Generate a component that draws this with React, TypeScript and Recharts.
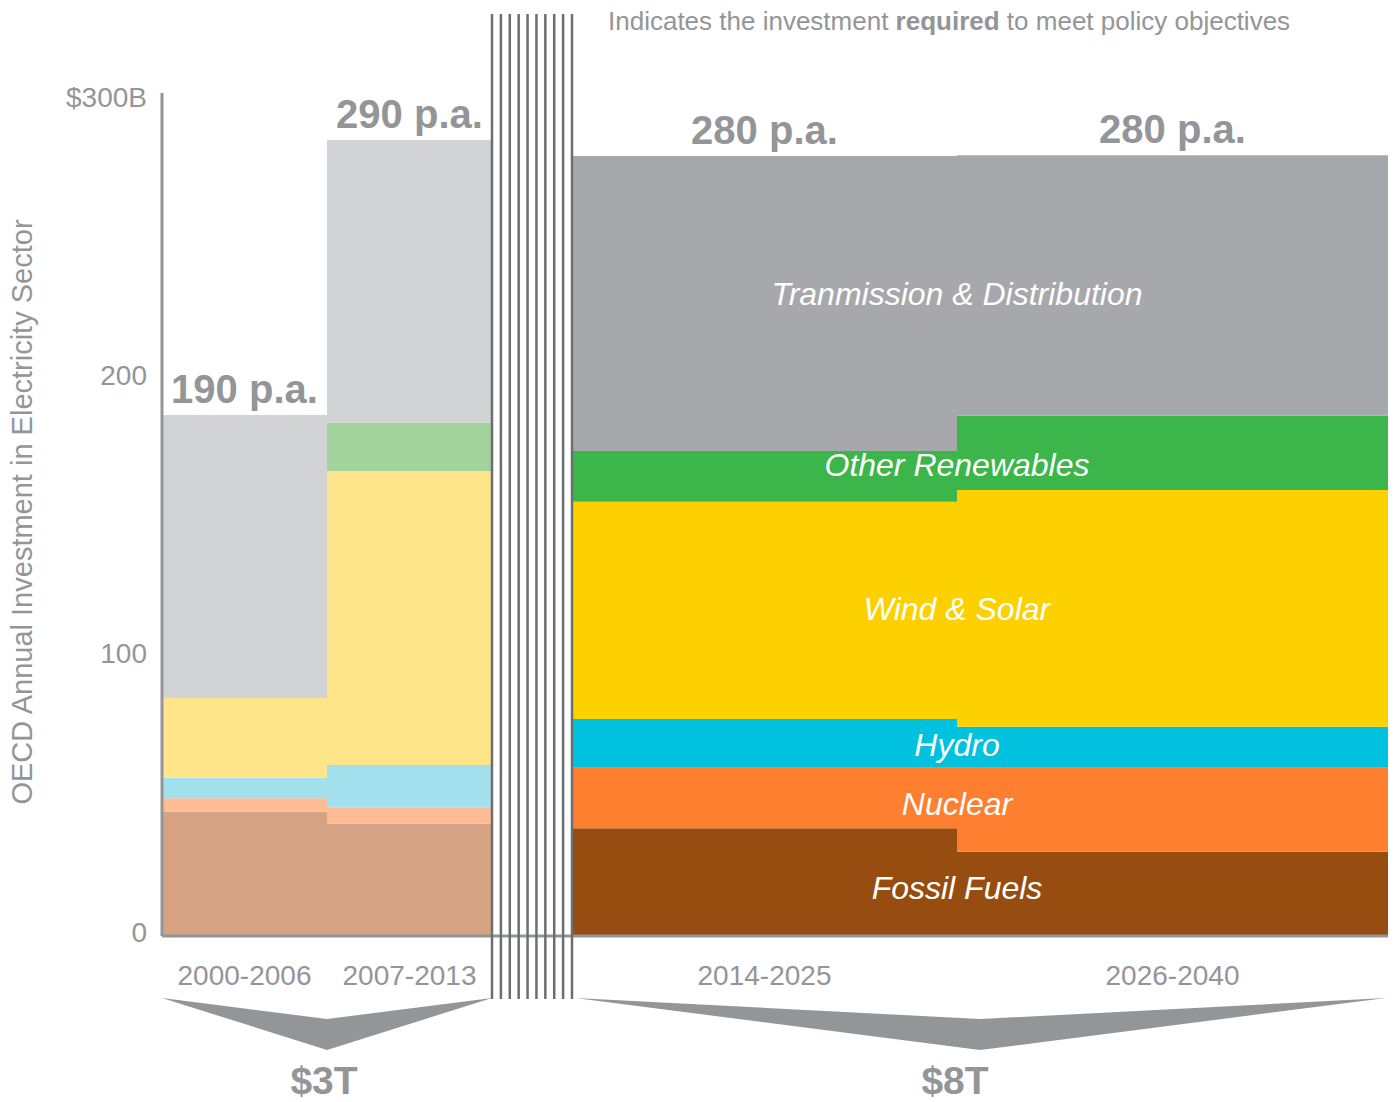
import React from 'react';
import { AreaChart, Area, XAxis, YAxis, ReferenceDot } from 'recharts';

// Investment per period, $B per year
const periods = ['2000-2006', '2007-2013', '2014-2025', '2026-2040'];
const fossil = [44.7, 40.4, 38.7, 30.3];
const nuclear = [4.8, 5.9, 21.8, 30.2];
const hydro = [7.4, 15.2, 17.5, 14.7];
const windSolar = [28.6, 105.6, 78.1, 85.1];
const otherRen = [0, 17.4, 18.2, 26.7];
const transDist = [101.8, 101.6, 106.1, 93.6];
const totalLabels = ['190 p.a.', '290 p.a.', '280 p.a.', '280 p.a.'];
const yTicks = [0, 100, 200, 300];

// layout: horizontal span of each period, in plot pixels (bars have different widths)
const barSpans: [number, number][] = [[0, 165], [165, 330], [410, 795], [795, 1226]];
const GAP: [number, number] = [330, 410];
const X_MAX = 1226;

const W = 1395;
const H = 1102;
const PLOT_LEFT = 162;
const PLOT_TOP = 93;
const PLOT_BOTTOM = 936;
const GREY = '#939598';
const FONT = '"Liberation Sans", Arial, Helvetica, sans-serif';

const series = [
  { key: 'fossil', values: fossil, name: 'Fossil Fuels', hist: '#d5a284', proj: '#984d10' },
  { key: 'nuclear', values: nuclear, name: 'Nuclear', hist: '#fdbd94', proj: '#fe7f30' },
  { key: 'hydro', values: hydro, name: 'Hydro', hist: '#a2e0ee', proj: '#00c1de' },
  { key: 'windSolar', values: windSolar, name: 'Wind & Solar', hist: '#fee58a', proj: '#fdd000' },
  { key: 'otherRen', values: otherRen, name: 'Other Renewables', hist: '#a3d39c', proj: '#3cb54a' },
  { key: 'transDist', values: transDist, name: 'Tranmission & Distribution', hist: '#d1d3d4', proj: '#a7a8ab' },
];

// step rows: one at the start of each period, zeros across the gap, and a closing row
const rows: any[] = [];
barSpans.forEach(([x0], i) => {
  const row: any = { x: x0 };
  series.forEach((s) => (row[s.key] = s.values[i]));
  rows.push(row);
  if (i === 1) {
    const gap: any = { x: GAP[0] };
    series.forEach((s) => (gap[s.key] = 0));
    rows.push(gap);
  }
});
const last: any = { x: X_MAX };
series.forEach((s) => (last[s.key] = s.values[3]));
rows.push(last);

const totals = periods.map((_, i) => series.reduce((sum, s) => sum + s.values[i], 0));
const centers = barSpans.map(([a, b]) => (a + b) / 2);

// segment labels sit on the 2014-2025 / 2026-2040 boundary, at the mean mid-height of both bars
const segLabels = series.map((s, si) => {
  const below = (i: number) => series.slice(0, si).reduce((sum, t) => sum + t.values[i], 0);
  const mid = (i: number) => below(i) + s.values[i] / 2;
  return { name: s.name, y: (mid(2) + mid(3)) / 2 };
});

const splitOffset = (GAP[0] + GAP[1]) / 2 / X_MAX;

function YTick(props: any) {
  const v = props.payload.value;
  return (
    <text x={props.x} y={props.y - 4} textAnchor="end" dominantBaseline="central"
      fontSize={28} fill={GREY} fontFamily={FONT}>
      {v === 300 ? '$300B' : v}
    </text>
  );
}

function XTick(props: any) {
  const i = centers.indexOf(props.payload.value);
  return (
    <text x={props.x} y={props.y + 39} textAnchor="middle" dominantBaseline="central"
      fontSize={28} fill={GREY} fontFamily={FONT}>
      {periods[i]}
    </text>
  );
}

export default function App() {
  const px = (u: number) => PLOT_LEFT + u;
  const lines = Array.from({ length: 10 }, (_, i) => px(GAP[0] + (i * (GAP[1] - GAP[0])) / 9));
  const leftMid = px((barSpans[0][0] + barSpans[1][1]) / 2);
  const rightMid = px((barSpans[2][0] + barSpans[3][1]) / 2);

  return (
    <div style={{ position: 'absolute', left: 0, top: 0, width: W, height: H, background: '#fff' }}>
      <AreaChart width={W} height={H} data={rows}
        margin={{ top: PLOT_TOP, right: W - PLOT_LEFT - X_MAX, bottom: H - PLOT_BOTTOM - 60, left: 0 }}>
        <defs>
          {series.map((s) => (
            <linearGradient key={s.key} id={`g-${s.key}`} gradientUnits="userSpaceOnUse"
              x1={PLOT_LEFT} x2={PLOT_LEFT + X_MAX} y1={0} y2={0}>
              <stop offset={0} stopColor={s.hist} />
              <stop offset={splitOffset} stopColor={s.hist} />
              <stop offset={splitOffset} stopColor={s.proj} />
              <stop offset={1} stopColor={s.proj} />
            </linearGradient>
          ))}
        </defs>
        <XAxis type="number" dataKey="x" domain={[0, X_MAX]} ticks={centers} interval={0}
          height={60} tickLine={false} tickSize={0} tickMargin={0} tick={<XTick />}
          axisLine={{ stroke: GREY, strokeWidth: 3 }} allowDataOverflow />
        <YAxis type="number" domain={[0, 303]} ticks={yTicks} width={PLOT_LEFT}
          tickLine={false} tickSize={0} tickMargin={15} tick={<YTick />}
          axisLine={{ stroke: GREY, strokeWidth: 3 }} allowDataOverflow />
        {series.map((s) => (
          <Area key={s.key} type="stepAfter" dataKey={s.key} stackId="1" stroke="none"
            fill={`url(#g-${s.key})`} fillOpacity={1} dot={false} activeDot={false}
            isAnimationActive={false} />
        ))}
        {centers.map((c, i) => (
          <ReferenceDot key={`t${i}`} x={c} y={totals[i]} r={0}
            shape={(p: any) => (
              <text x={p.cx} y={p.cy - 12} textAnchor="middle" fontSize={40} fontWeight="bold"
                fill={GREY} fontFamily={FONT}>
                {totalLabels[i]}
              </text>
            )} />
        ))}
        {segLabels.map((l) => (
          <ReferenceDot key={l.name} x={barSpans[2][1]} y={l.y} r={0}
            shape={(p: any) => (
              <text x={p.cx} y={p.cy} textAnchor="middle" dominantBaseline="central" fontSize={32}
                fontStyle="italic" fill="#fff" fontFamily={FONT}>
                {l.name}
              </text>
            )} />
        ))}
      </AreaChart>

      <svg width={W} height={H} style={{ position: 'absolute', left: 0, top: 0, pointerEvents: 'none' }}>
        <text transform="translate(32,512) rotate(-90)" textAnchor="middle" fontSize={29}
          fill={GREY} fontFamily={FONT}>
          OECD Annual Investment in Electricity Sector
        </text>
        <text x={608} y={30} fontSize={26} fill={GREY} fontFamily={FONT}>
          <tspan>Indicates the investment </tspan>
          <tspan fontWeight="bold">required</tspan>
          <tspan> to meet policy objectives</tspan>
        </text>
        {lines.map((x, i) => (
          <line key={i} x1={x} x2={x} y1={14} y2={999} stroke="#6d6e71" strokeWidth={2.5} />
        ))}
        <polygon fill={GREY}
          points={`${px(barSpans[0][0])},998 ${leftMid},1019 ${px(barSpans[1][1])},998 ${leftMid},1050`} />
        <polygon fill={GREY}
          points={`${px(barSpans[2][0]) + 3},998 ${rightMid},1019 ${px(barSpans[3][1]) - 2},998 ${rightMid},1050`} />
        <text x={leftMid - 3} y={1094} textAnchor="middle" fontSize={39} fontWeight="bold"
          fill={GREY} fontFamily={FONT}>$3T</text>
        <text x={rightMid - 25} y={1094} textAnchor="middle" fontSize={39} fontWeight="bold"
          fill={GREY} fontFamily={FONT}>$8T</text>
      </svg>
    </div>
  );
}
